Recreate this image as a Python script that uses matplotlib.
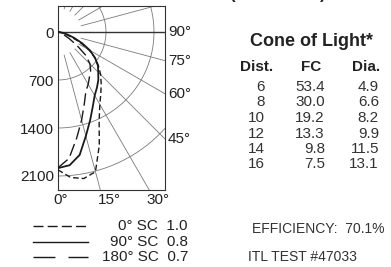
import numpy as np
import matplotlib
matplotlib.use("Agg")
import matplotlib.pyplot as plt
from matplotlib.lines import Line2D

plt.rcParams['font.family'] = ['Liberation Sans', 'DejaVu Sans']
plt.rcParams['lines.scale_dashes'] = False

# ---- data (candela vs. angle from nadir) ----
angles = [0, 5, 10, 15, 20, 25, 30, 35, 40, 45, 50, 55, 60, 65, 70, 75, 80, 85, 90]
cd_0sc = [2010, 2130, 2170, 2110, 1760, 1420, 1220, 1090, 980, 880, 770, 660, 520, 350, 200, 100, 45, 15, 0]
cd_90sc = [1985, 1950, 1820, 1570, 1370, 1200, 1070, 990, 915, 830, 760, 660, 540, 390, 250, 140, 70, 25, 0]
cd_180sc = [1980, 1850, 1570, 1330, 1120, 960, 880, 800, 740, 660, 530, 330, 180, 90, 40, 15, 5, 0, 0]

ring_values = [700, 1400, 2100]
ring_labels = ['0', '700', '1400', '2100']
ray_angles = [15, 30, 45, 60, 75, 105, 120, 135, 150, 165]
right_labels = [90, 75, 60, 45]
bottom_labels = ['0°', '15°', '30°']

legend_names = ['0° SC', '90° SC', '180° SC']
legend_sc = ['1.0', '0.8', '0.7']

table_title = 'Cone of Light*'
table_header = ['Dist.', 'FC', 'Dia.']
dist = ['6', '8', '10', '12', '14', '16']
fc = ['53.4', '30.0', '19.2', '13.3', '9.8', '7.5']
dia = ['4.9', '6.6', '8.2', '9.9', '11.5', '13.1']
efficiency = 'EFFICIENCY:  70.1%'
itl = 'ITL TEST #47033'

# ---- figure ----
W, H = 391, 267
fig = plt.figure(figsize=(W / 100, H / 100), dpi=100)

def fx(x):
    return x / W

def fy(y):
    return 1 - y / H

ax_l, ax_r, ax_t, ax_b = 58, 165, 6, 190
ox, oy = 58, 32
s = 700 / 48.0  # candela per pixel
ax = fig.add_axes([fx(ax_l), fy(ax_b), (ax_r - ax_l) / W, (ax_b - ax_t) / H])
ax.set_xlim((ax_l - ox) * s, (ax_r - ox) * s)
ax.set_ylim(-(ax_b - oy) * s, (oy - ax_t) * s)
xmax = (ax_r - ox) * s
for sp in ax.spines.values():
    sp.set_color('#333333')
    sp.set_linewidth(0.8)
ax.set_xticks([])
ax.set_yticks([0] + [-v for v in ring_values])
ax.set_yticklabels(ring_labels, fontsize=11, color='#222222')
ax.tick_params(axis='y', length=0, pad=3)

grid_c = '#7a7a7a'
t = np.linspace(0, 2 * np.pi, 400)
for rv in ring_values:
    ax.plot(rv * np.sin(t), rv * np.cos(t), color=grid_c, lw=0.6, zorder=1)
for a in ray_angles:
    ar = np.radians(a)
    r0, r1 = 350, 4000
    ax.plot([r0 * np.sin(ar), r1 * np.sin(ar)], [-r0 * np.cos(ar), -r1 * np.cos(ar)],
            color=grid_c, lw=0.6, zorder=1)
ax.plot([0, 4000], [0, 0], color='#333333', lw=1.0, zorder=1)

th = np.radians(angles)
def xy(vals):
    v = np.array(vals, dtype=float)
    return v * np.sin(th), -v * np.cos(th)

x0, y0 = xy(cd_0sc)
x9, y9 = xy(cd_90sc)
x18, y18 = xy(cd_180sc)
ax.plot(x0, y0, color='#1a1a1a', lw=1.0, dashes=(4, 2.2), zorder=3)
ax.plot(x9, y9, color='#1a1a1a', lw=1.3, zorder=3)
ax.plot(x18, y18, color='#1a1a1a', lw=1.0, dashes=(9, 3.5), zorder=3)

# right angle labels
for a in right_labels:
    yv = 0 if a == 90 else -xmax / np.tan(np.radians(a))
    ax.annotate(f'{a}°', xy=(xmax, yv), xytext=(2, 0), textcoords='offset points',
                ha='left', va='center', fontsize=11, color='#222222', annotation_clip=False)

# bottom labels
for lab, px in zip(bottom_labels, [61, 109, 158]):
    fig.text(fx(px), fy(200), lab, ha='center', va='center', fontsize=11, color='#222222')

# legend
leg_y = [226, 241.5, 257]
leg_dashes = [(7.2, 3.0), None, (15.8, 9.4)]
for yy, d, name, sc in zip(leg_y, leg_dashes, legend_names, legend_sc):
    kw = dict(color='#1a1a1a', lw=1.0, transform=fig.transFigure)
    if d is not None:
        kw['dashes'] = d
    fig.add_artist(Line2D([fx(33), fx(88)], [fy(yy), fy(yy)], **kw))
    fig.text(fx(188), fy(yy), f'{name}  {sc}', ha='right', va='center', fontsize=11, color='#222222')

# partially visible header parentheses
fig.text(fx(232), fy(-1), '(', ha='center', va='baseline', fontsize=12, fontweight='bold', color='#222222')
fig.text(fx(323), fy(-1), ')', ha='center', va='baseline', fontsize=12, fontweight='bold', color='#222222')

# table
fig.text(fx(311), fy(42), table_title, ha='center', va='center', fontsize=13, fontweight='bold', color='#222222')
for lab, px in zip(table_header, [257, 311, 366]):
    fig.text(fx(px), fy(67), lab, ha='center', va='center', fontsize=11, fontweight='bold', color='#222222')
row_y = [87, 102.5, 118, 133.5, 149, 164.5]
for yy, d_, f_, di in zip(row_y, dist, fc, dia):
    fig.text(fx(265), fy(yy), d_, ha='right', va='center', fontsize=11, color='#333333')
    fig.text(fx(325), fy(yy), f_, ha='right', va='center', fontsize=11, color='#333333')
    fig.text(fx(379), fy(yy), di, ha='right', va='center', fontsize=11, color='#333333')

fig.text(fx(384), fy(229), efficiency, ha='right', va='center', fontsize=10, color='#333333')
fig.text(fx(248), fy(257), itl, ha='left', va='center', fontsize=10, color='#333333')

fig.savefig('out.png', dpi=100, facecolor='white')
